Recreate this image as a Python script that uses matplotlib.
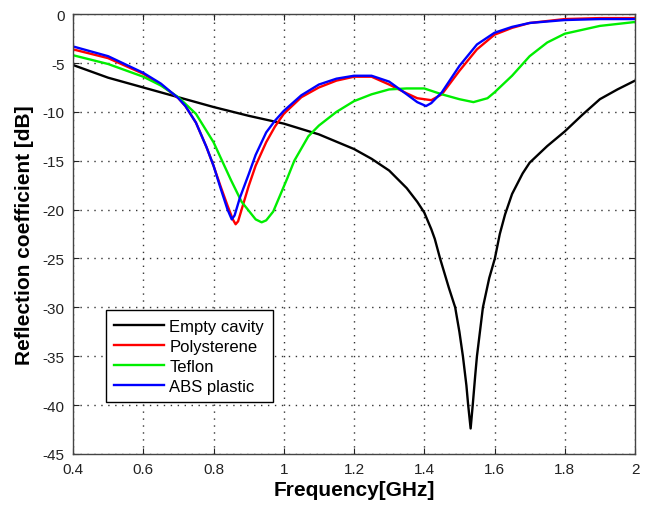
import matplotlib.pyplot as plt

plt.rcParams['font.family'] = ['Liberation Sans', 'DejaVu Sans']
plt.rcParams['axes.unicode_minus'] = False

# Empty cavity
f_empty = [0.4, 0.5, 0.6, 0.7, 0.8, 0.9, 1.0, 1.1, 1.2, 1.25, 1.3, 1.35, 1.38, 1.4, 1.42, 1.43,
           1.445, 1.47, 1.488, 1.5, 1.51, 1.52, 1.525, 1.532, 1.538, 1.545, 1.55,
           1.567, 1.585, 1.601, 1.615, 1.63, 1.65, 1.68, 1.7, 1.75, 1.8, 1.85, 1.9, 1.95, 2.0]
s_empty = [-5.2, -6.5, -7.5, -8.5, -9.5, -10.4, -11.2, -12.3, -13.8, -14.8, -16.0, -17.8, -19.2, -20.3, -22.0, -23.0,
           -25.0, -28.0, -30.0, -32.5, -35.0, -38.0, -40.0, -42.4, -40.0, -37.0, -35.0,
           -30.0, -27.0, -25.0, -22.5, -20.5, -18.4, -16.3, -15.2, -13.5, -12.0, -10.3, -8.7, -7.7, -6.8]

# Polysterene
f_poly = [0.4, 0.5, 0.6, 0.65, 0.7, 0.72, 0.75, 0.78, 0.8, 0.82, 0.84, 0.855, 0.863, 0.87, 0.88,
          0.9, 0.92, 0.95, 0.975, 1.0, 1.05, 1.1, 1.15, 1.2, 1.25, 1.3, 1.35, 1.38, 1.42,
          1.45, 1.5, 1.55, 1.6, 1.65, 1.7, 1.8, 1.9, 2.0]
s_poly = [-3.6, -4.5, -6.1, -7.2, -8.6, -9.4, -11.1, -13.6, -15.5, -17.6, -19.6, -21.0, -21.5, -21.2, -20.0,
          -17.6, -15.5, -13.1, -11.5, -10.2, -8.5, -7.5, -6.8, -6.4, -6.4, -7.2, -8.1, -8.6, -8.8,
          -8.2, -5.8, -3.6, -2.1, -1.4, -0.9, -0.5, -0.4, -0.4]

# Teflon
f_teflon = [0.4, 0.5, 0.6, 0.65, 0.7, 0.75, 0.8, 0.85, 0.88, 0.92, 0.937, 0.95, 0.97, 0.99,
            1.01, 1.03, 1.07, 1.1, 1.15, 1.2, 1.25, 1.3, 1.35, 1.4, 1.45, 1.5, 1.54, 1.58,
            1.6, 1.65, 1.7, 1.75, 1.8, 1.9, 2.0]
s_teflon = [-4.2, -5.1, -6.4, -7.3, -8.5, -10.2, -13.1, -17.0, -19.2, -21.0, -21.3, -21.1, -20.2, -18.5,
            -16.8, -15.0, -12.5, -11.4, -10.0, -8.9, -8.2, -7.7, -7.6, -7.6, -8.2, -8.7, -9.0, -8.6,
            -8.0, -6.3, -4.3, -2.9, -2.0, -1.2, -0.8]

# ABS plastic
f_abs = [0.4, 0.5, 0.6, 0.65, 0.7, 0.72, 0.75, 0.78, 0.8, 0.82, 0.84, 0.852, 0.86, 0.875,
         0.9, 0.92, 0.95, 0.975, 1.0, 1.05, 1.1, 1.15, 1.2, 1.25, 1.3, 1.35, 1.38, 1.405,
         1.42, 1.45, 1.5, 1.55, 1.6, 1.65, 1.7, 1.8, 1.9, 2.0]
s_abs = [-3.3, -4.3, -6.0, -7.1, -8.6, -9.4, -11.1, -13.6, -15.5, -17.8, -20.0, -21.0, -20.6, -18.8,
         -16.4, -14.4, -12.1, -10.9, -9.9, -8.3, -7.2, -6.6, -6.3, -6.3, -6.9, -8.2, -9.0, -9.4,
         -9.1, -8.0, -5.3, -3.1, -1.9, -1.3, -0.9, -0.6, -0.5, -0.5]

x_ticks = [0.4, 0.6, 0.8, 1, 1.2, 1.4, 1.6, 1.8, 2]
x_tick_labels = ['0.4', '0.6', '0.8', '1', '1.2', '1.4', '1.6', '1.8', '2']
y_ticks = [-45, -40, -35, -30, -25, -20, -15, -10, -5, 0]

fig = plt.figure(figsize=(6.46, 5.06), dpi=100)
ax = fig.add_axes([0.113, 0.101, 0.870, 0.869])

ax.plot(f_empty, s_empty, color='black', lw=1.7, label='Empty cavity')
ax.plot(f_poly, s_poly, color='#ff0000', lw=1.7, label='Polysterene')
ax.plot(f_teflon, s_teflon, color='#00ee00', lw=1.7, label='Teflon')
ax.plot(f_abs, s_abs, color='#0000ff', lw=1.7, label='ABS plastic')

ax.set_xlim(0.4, 2)
ax.set_ylim(-45, 0)
ax.set_xticks(x_ticks)
ax.set_xticklabels(x_tick_labels)
ax.set_yticks(y_ticks)
ax.tick_params(direction='in', top=True, right=True, labelsize=11, length=4,
               colors='#222222', pad=6)
ax.grid(True, linestyle=(0, (1, 4)), color='#333333', lw=1.0)
for sp in ax.spines.values():
    sp.set_color('#444444')
    sp.set_linewidth(1.0)

ax.set_xlabel('Frequency[GHz]', fontsize=15, fontweight='bold', labelpad=3)
ax.set_ylabel('Reflection coefficient [dB]', fontsize=15, fontweight='bold', labelpad=6)

leg = ax.legend(loc='lower left', bbox_to_anchor=(0.059, 0.118), borderaxespad=0,
                fontsize=12, handlelength=3.0, labelspacing=0.3, fancybox=False,
                edgecolor='black', framealpha=1, borderpad=0.5, handletextpad=0.3)
leg.get_frame().set_linewidth(1.0)

fig.savefig('out.png', dpi=100)
